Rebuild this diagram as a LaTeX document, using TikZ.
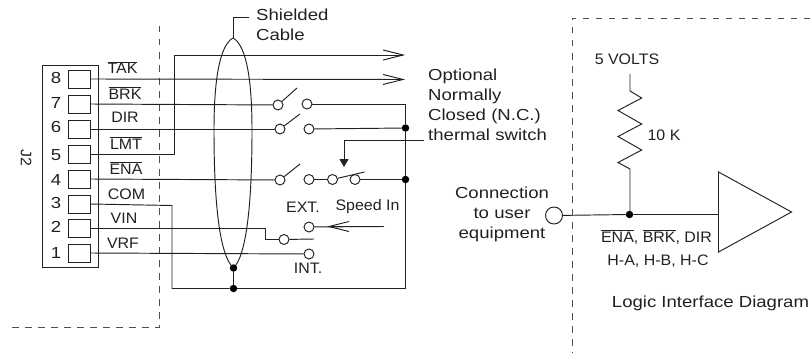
\documentclass[tikz,border=0pt]{standalone}
\usepackage{fontspec}
\setmainfont[FakeStretch=1.16]{Liberation Sans}
\newfontfamily\smallfam[FakeStretch=1.05]{Liberation Sans}
\usetikzlibrary{arrows.meta}
\definecolor{ink}{gray}{0.13}
\tikzset{
  wire/.style={draw=ink,line width=0.95pt},
  dash box/.style={draw=ink!80,line width=0.95pt,dash pattern=on 6.5pt off 6.5pt},
  lbl/.style={text=ink,font=\fontsize{16}{20}\selectfont,inner sep=0pt},
  sml/.style={text=ink,font=\smallfam\fontsize{15.2}{20}\selectfont,inner sep=0pt},
  pinbox/.style={draw=ink,line width=0.95pt,minimum width=22pt,minimum height=18pt,inner sep=0pt},
  term/.style={circle,draw=ink,fill=white,line width=0.95pt,minimum size=10pt,inner sep=0pt},
  jdot/.style={circle,fill=black,minimum size=7.5pt,inner sep=0pt},
  openarrow/.style={-{Straight Barb[length=20pt,width=10pt,line width=0.95pt]}},
  solidarrow/.style={-{Triangle[length=8pt,width=9pt]}}
}
\newcommand{\ol}[1]{$\overline{\hbox{#1}}$}
\begin{document}
\begin{tikzpicture}[x=1pt,y=-1pt]
\useasboundingbox (0,0) rectangle (810,353);
% dashed boundaries
\coordinate (dA) at (159,26); \coordinate (dB) at (159,327.5); \coordinate (dC) at (7,327.5);
\draw[dash box] (dA) -- (dB) -- (dC);
\coordinate (dD) at (810,18); \coordinate (dE) at (572,18); \coordinate (dF) at (572,353);
\draw[dash box] (dD) -- (dE) -- (dF);
% connector
\node[draw=ink,line width=0.95pt,minimum width=55.5pt,minimum height=202pt,inner sep=0pt] (conn) at (70.7,166.5) {};
\foreach \n/\y in {8/79,7/104,6/129,5/154,4/179,3/204,2/228,1/253}{
  \node[pinbox] (p\n) at (79,\y) {};
}
\foreach \n/\y in {8/78,7/103,6/127,5/155,4/180,3/203,2/227,1/253}{
  \node[lbl] (num\n) at (56,\y) {\n};
}
\node[sml,rotate=-90] (j2) at (26,158) {J2};
\node[sml,anchor=base] (tTAK) at (122.5,74) {\ol{TAK}};
\node[sml,anchor=base] (tBRK) at (125,99) {\ol{BRK}};
\node[sml,anchor=base] (tDIR) at (125,122) {DIR};
\node[sml,anchor=base] (tLMT) at (126,149) {\ol{LMT}};
\node[sml,anchor=base] (tENA) at (126,174) {\ol{ENA}};
\node[sml,anchor=base] (tCOM) at (126.5,199) {COM};
\node[sml,anchor=base] (tVIN) at (124,223) {VIN};
\node[sml,anchor=base] (tVRF) at (123,248) {VRF};
% cable
\coordinate (ct) at (233,38); \coordinate (cb) at (233.5,268);
\draw[wire] (ct) .. controls (222,44) and (214,70) .. (214,130) .. controls (214,200) and (219,255) .. (cb)
  .. controls (247,255) and (252,200) .. (252,130) .. controls (252,70) and (244,44) .. (ct);
\coordinate (sh) at (249,17);
\draw[wire] (ct) -- (233,17) -- (sh);
\node[lbl,align=left,anchor=north west,text width=80pt] (tsh) at (256,9) {Shielded\\Cable};
% terminals
\node[term] (s7a) at (278,105) {}; \node[term] (s7b) at (307,104) {};
\node[term] (s6a) at (280,129) {}; \node[term] (s6b) at (309,129) {};
\node[term] (s4a) at (280,180) {}; \node[term] (s4b) at (309,179.5) {};
\node[term] (s4c) at (332.5,179.5) {}; \node[term] (s4d) at (355,179.5) {};
\node[term] (sp) at (309,227) {}; \node[term] (sw) at (284,239.5) {}; \node[term] (si) at (309,254) {};
\node[jdot] (j1) at (405.5,128) {}; \node[jdot] (j2d) at (405.5,179.5) {};
\node[jdot] (j3) at (233.5,268) {}; \node[jdot] (j4) at (233.5,288.5) {};
% wires
\coordinate (a5) at (405,55); \coordinate (a8) at (405,79.5);
\draw[wire,openarrow] (p5.east) -- (174,154) -- (174,55) -- (a5);
\draw[wire,openarrow] (p8.east) -- (a8);
\draw[wire] (p7.east) -- (s7a);
\draw[wire] (p6.east) -- (s6a);
\draw[wire] (p4.east) -- (s4a);
\draw[wire] (s7b) -- (405.5,104) -- (j1);
\draw[wire] (s6b) -- (j1);
\draw[wire] (s4b) -- (s4c);
\draw[wire] (s4d) -- (j2d);
\draw[wire] (j1) -- (j2d) -- (405.5,288.5) -- (j4);
\draw[wire] (p3.east) -- (172,205.5) -- (172,288.5) -- (j4);
\draw[wire] (j3) -- (j4);
\draw[wire] (p2.east) -- (265,228) -- (265,239.5) -- (sw);
\draw[wire] (p1.east) -- (si);
\coordinate (swe) at (314,239); \draw[wire] (sw) -- (swe);
\coordinate (spe) at (384,226.5); \coordinate (spt) at (327,226.5);
\draw[wire] (sp) -- (spe);
\draw[wire,{Straight Barb[length=20pt,width=10pt,line width=0.95pt]}-] (spt) -- (spe);
% blades
\draw[wire] (s7a) -- (297,88);
\draw[wire] (s6a) -- (300,114);
\draw[wire] (s4a) -- (300,164);
\draw[wire] (s4c) -- (364.5,172);
% thermal leader
\coordinate (th) at (424,140);\coordinate (tha) at (344,167);
\draw[wire,solidarrow] (th) -- (344,140) -- (tha);
\node[lbl,align=left,anchor=north west,text width=140pt] (topt) at (428,68.5) {Optional\\Normally\\Closed (N.C.)\\thermal switch};
\node[sml] (text) at (303,207) {EXT.};
\node[sml] (tspd) at (367.5,207) {Speed In};
\node[sml] (tint) at (308,268.5) {INT.};
% right part
\node[circle,draw=ink,line width=0.95pt,minimum size=17pt,inner sep=0pt] (ue) at (554,215.5) {};
\node[lbl,align=center,text width=110pt] (tue) at (502,214.5) {Connection\\to user\\equipment};
\node[sml] (t5v) at (627,59) {5 VOLTS};
\node[sml] (t10k) at (664,135) {10 K};
\node[jdot] (jr) at (629.5,214.5) {};
\coordinate (rt) at (630,74);
\draw[wire] (rt) -- (630,91) -- (641.7,98) -- (618,110.5) -- (641.7,124) -- (618,136.5) -- (641.7,150) -- (618,162.5) -- (630,169) -- (630,214.5);
\draw[wire,line join=miter] (718.5,172) -- (791.5,212) -- (718.5,252) -- cycle;
\coordinate (tr) at (718.5,214.5);
\draw[wire] (ue) -- (jr) -- (tr);
\node[sml,anchor=base] (tsig1) at (656.5,242) {\ol{ENA}, \ol{BRK}, DIR};
\node[sml,anchor=base] (tsig2) at (658,265) {H-A, H-B, H-C};
\node[lbl,anchor=base] (tlogic) at (710.5,307) {Logic Interface Diagram};
\end{tikzpicture}
\end{document}
